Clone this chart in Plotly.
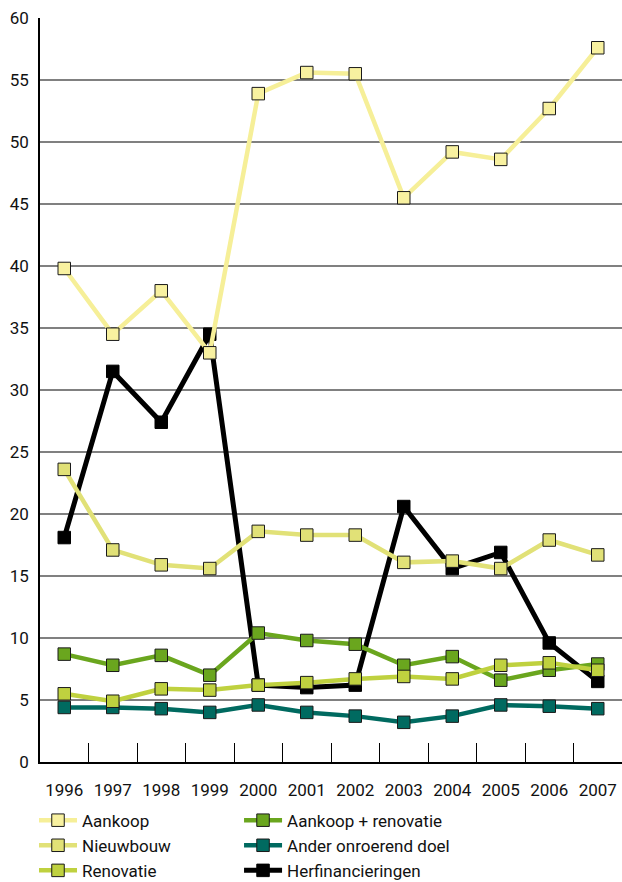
import plotly.graph_objects as go

years = ["1996", "1997", "1998", "1999", "2000", "2001", "2002", "2003", "2004", "2005", "2006", "2007"]

aankoop = [39.8, 34.5, 38.0, 33.0, 53.9, 55.6, 55.5, 45.5, 49.2, 48.6, 52.7, 57.6]
nieuwbouw = [23.6, 17.1, 15.9, 15.6, 18.6, 18.3, 18.3, 16.1, 16.2, 15.6, 17.9, 16.7]
renovatie = [5.5, 4.9, 5.9, 5.8, 6.2, 6.4, 6.7, 6.9, 6.7, 7.8, 8.0, 7.4]
aankoop_renovatie = [8.7, 7.8, 8.6, 7.0, 10.4, 9.8, 9.5, 7.8, 8.5, 6.6, 7.4, 7.9]
ander_doel = [4.4, 4.4, 4.3, 4.0, 4.6, 4.0, 3.7, 3.2, 3.7, 4.6, 4.5, 4.3]
herfinancieringen = [18.1, 31.5, 27.4, 34.5, 6.2, 6.0, 6.2, 20.6, 15.6, 16.9, 9.6, 6.5]

y_ticks = [0, 5, 10, 15, 20, 25, 30, 35, 40, 45, 50, 55, 60]

# (name, values, line colour, line width, marker fill, marker outline, legend, rank) in drawing order
series = [
    ("Herfinancieringen", herfinancieringen, "#000000", 5, "#000000", "#000000", "legend2", 3),
    ("Ander onroerend doel", ander_doel, "#006A60", 4.5, "#006A60", "#1a1a1a", "legend2", 2),
    ("Aankoop + renovatie", aankoop_renovatie, "#6AA61E", 4.5, "#6AA61E", "#1a1a1a", "legend2", 1),
    ("Renovatie", renovatie, "#BFD13F", 4.5, "#BFD13F", "#1a1a1a", "legend", 3),
    ("Nieuwbouw", nieuwbouw, "#E1E177", 4.5, "#E1E177", "#1a1a1a", "legend", 2),
    ("Aankoop", aankoop, "#F6EF98", 4.5, "#F8F1A0", "#1a1a1a", "legend", 1),
]

fig = go.Figure()
for name, vals, lc, lw, mf, mo, leg, rank in series:
    fig.add_trace(go.Scatter(
        x=years, y=vals, name=name, mode="lines+markers",
        line=dict(color=lc, width=lw),
        marker=dict(symbol="square", size=12.5, color=mf, line=dict(color=mo, width=1)),
        legend=leg, legendrank=rank, cliponaxis=False,
    ))

legend_style = dict(
    orientation="v", xanchor="left", y=-0.0546, yanchor="top",
    itemwidth=38, font=dict(size=17, family="Roboto", color="#111111"),
    traceorder="normal", bgcolor="rgba(0,0,0,0)",
)

fig.update_layout(
    width=622, height=882,
    margin=dict(l=40, r=0, t=18, b=120, autoexpand=False),
    paper_bgcolor="white", plot_bgcolor="white",
    font=dict(family="Roboto", size=17, color="#111111"),
    showlegend=True,
    legend=dict(x=-0.0103, **legend_style),
    legend2=dict(x=0.342, **legend_style),
)

fig.update_xaxes(
    type="category", range=[-0.5, 11.5], automargin=False,
    showgrid=False, showline=True, linecolor="#000000", linewidth=1.5,
    ticks="inside", tickson="boundaries", ticklen=19, tickcolor="#000000", tickwidth=1,
    ticklabelstandoff=12, tickfont=dict(size=17),
)
fig.update_yaxes(
    range=[0, 60], tickvals=y_ticks, ticktext=[str(v) for v in y_ticks], automargin=False,
    showgrid=True, gridcolor="#808080", gridwidth=1.5,
    showline=True, linecolor="#000000", linewidth=1.5,
    zeroline=False, ticks="", ticklabelstandoff=6, tickfont=dict(size=17),
)

fig.write_html(
    "out.html",
    config={"displayModeBar": False},
    post_script="document.body.style.margin='0';document.body.style.overflow='hidden';",
)
